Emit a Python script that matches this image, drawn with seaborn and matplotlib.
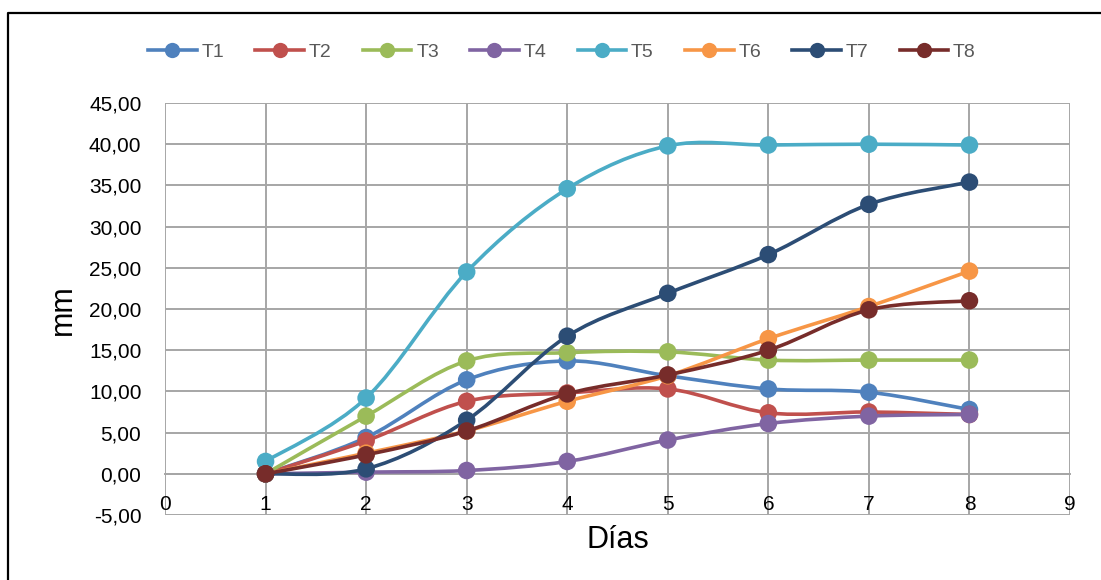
import numpy as np
import pandas as pd
import seaborn as sns
from matplotlib import pyplot as plt
from matplotlib.path import Path
from matplotlib.patches import PathPatch
from matplotlib.lines import Line2D
from matplotlib.ticker import FuncFormatter

dias = [1, 2, 3, 4, 5, 6, 7, 8]
series = ["T1", "T2", "T3", "T4", "T5", "T6", "T7", "T8"]

t1 = [0.0, 4.4, 11.4, 13.7, 11.9, 10.3, 9.9, 7.8]
t2 = [0.0, 4.0, 8.8, 9.8, 10.3, 7.4, 7.5, 7.2]
t3 = [0.0, 7.0, 13.7, 14.7, 14.8, 13.8, 13.8, 13.8]
t4 = [0.0, 0.2, 0.4, 1.5, 4.1, 6.1, 7.0, 7.2]
t5 = [1.5, 9.2, 24.5, 34.6, 39.8, 39.9, 40.0, 39.9]
t6 = [0.0, 2.5, 5.2, 8.8, 11.9, 16.4, 20.3, 24.6]
t7 = [0.0, 0.6, 6.5, 16.7, 21.9, 26.6, 32.7, 35.4]
t8 = [0.0, 2.3, 5.2, 9.7, 12.0, 15.0, 19.9, 21.0]

colors = ["#4F81BD", "#C0504D", "#9BBB59", "#8064A2",
          "#4BACC6", "#F79646", "#2C4D75", "#772C2A"]

df = pd.DataFrame({"T1": t1, "T2": t2, "T3": t3, "T4": t4,
                   "T5": t5, "T6": t6, "T7": t7, "T8": t8}, index=dias)
long = df.reset_index(names="dia").melt(id_vars="dia", var_name="serie", value_name="mm")

plt.rcParams["font.family"] = ["Liberation Sans", "DejaVu Sans"]


def smooth_path(x, y):
    # Excel-style smoothed line: Catmull-Rom segments as cubic Bezier
    p = np.column_stack([x, y]).astype(float)
    n = len(p)
    verts = [p[0]]
    codes = [Path.MOVETO]
    for i in range(n - 1):
        p0 = p[i - 1] if i > 0 else p[i]
        p3 = p[i + 2] if i + 2 < n else p[i + 1]
        c1 = p[i] + (p[i + 1] - p0) / 6
        c2 = p[i + 1] - (p3 - p[i]) / 6
        verts += [c1, c2, p[i + 1]]
        codes += [Path.CURVE4] * 3
    return Path(verts, codes)


W, H = 1101, 580
fig = plt.figure(figsize=(W / 100, H / 100), dpi=100)
ax = fig.add_axes([165 / W, 1 - 515 / H, (1070 - 165) / W, (515 - 103) / H])

# outer chart border (left and top edges visible in the crop)
fig.add_artist(Line2D([8 / W, 8 / W, 1.01], [-0.01, 1 - 13 / H, 1 - 13 / H],
                      transform=fig.transFigure, color="black", linewidth=1.6))

for k, name in enumerate(series):
    ax.add_patch(PathPatch(smooth_path(df.index, df[name]), fill=False,
                           edgecolor=colors[k], linewidth=2.6, zorder=3 + 2 * k,
                           capstyle="round"))
    sns.scatterplot(data=long[long["serie"] == name], x="dia", y="mm", ax=ax,
                    color=colors[k], s=160, edgecolor="none", legend=False,
                    zorder=4 + 2 * k)

ax.set_xlim(0, 9)
ax.set_ylim(-5, 45)
ax.set_xticks(range(0, 10))
ax.set_yticks(np.arange(-5, 46, 5))
ax.yaxis.set_major_formatter(FuncFormatter(lambda v, _: f"{v:.2f}".replace(".", ",")))
ax.grid(True, color="#A6A6A6", linewidth=1.4)
ax.set_axisbelow(True)
for s in ["top", "right", "left"]:
    ax.spines[s].set_visible(False)
ax.spines["bottom"].set_position(("data", 0))
ax.spines["bottom"].set_color("#A6A6A6")
ax.spines["bottom"].set_linewidth(1.4)
ax.tick_params(axis="both", length=0, labelsize=15, colors="black")
ax.tick_params(axis="x", pad=15)
ax.tick_params(axis="y", pad=17)
ax.set_xlabel("")
ax.set_ylabel("")

fig.text(618 / W, 1 - 540 / H, "Días", fontsize=22, ha="center", va="center")
fig.text(63 / W, 1 - 310 / H, "mm", fontsize=22, ha="center", va="center",
         rotation=90)

handles = [Line2D([], [], color=c, linewidth=2.6, marker="o", markersize=11,
                  markeredgewidth=0) for c in colors]
fig.legend(handles, series, loc="center", bbox_to_anchor=(562 / W, 1 - 52 / H),
           ncol=8, frameon=False, fontsize=14, handlelength=2.5, handletextpad=0.25,
           columnspacing=1.6, labelcolor="#595959")

fig.savefig("out.png", dpi=100)
